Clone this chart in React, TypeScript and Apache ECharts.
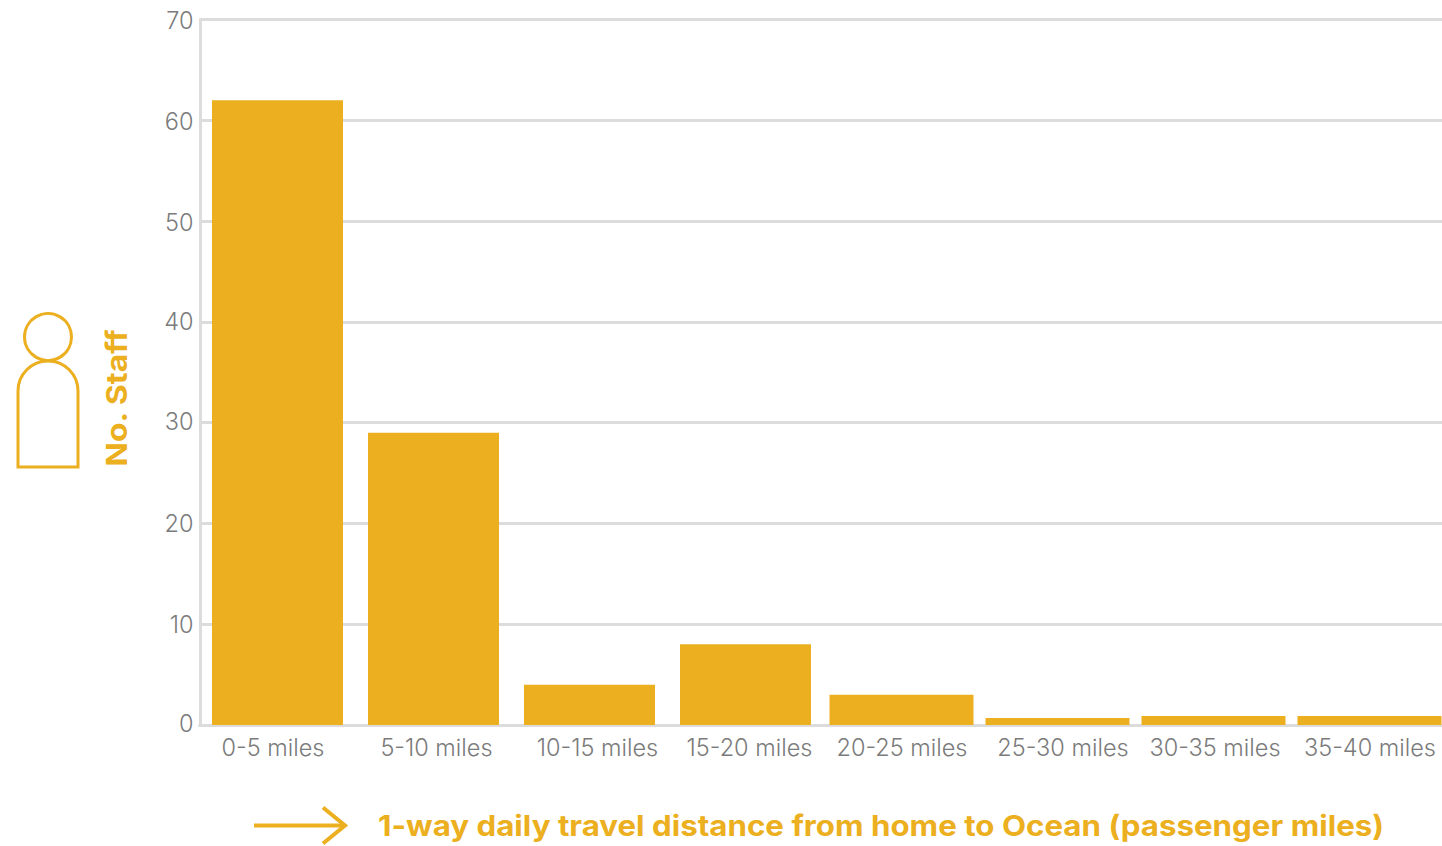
import React, { useEffect, useRef } from "react";
import * as echarts from "echarts";

const categories = ["0-5 miles", "5-10 miles", "10-15 miles", "15-20 miles", "20-25 miles", "25-30 miles", "30-35 miles", "35-40 miles"];
const staffCounts = [62, 29, 4, 8, 3, 0.7, 0.9, 0.9];
const yTicks = [0, 10, 20, 30, 40, 50, 60, 70];
const yTitle = "No. Staff";
const xTitle = "1-way daily travel distance from home to Ocean (passenger miles)";

const AMBER = "#ebaf20";
const GREY_TEXT = "#7b7b7b";
const RULE = "#dcdcdc";
const LABEL_FONT = "Inter";
const TITLE_FONT = "Inter";
const LABEL_SIZE = 23.5;

// The narrower bars cover the first four bands, the wider ones the rest.
const NARROW_COUNT = 4;
// Horizontal nudge of each category label relative to its band centre.
const labelShift = [-4.5, 3, 8, 4, 0.5, 5.5, 1.5, 0.5];
// Vertical nudge of the value labels, keyed by tick value; positive lifts the label.
const tickLift: Record<number, number> = { 0: 2, 10: 0, 20: 0, 30: 1, 40: 0, 50: -1, 60: -1, 70: -1 };

const bodyShape = echarts.graphic.extendPath(
  "M18 467 L18 391 A30 30 0 0 1 78 391 L78 467 Z",
  {}
);
echarts.graphic.registerShape("personBody", bodyShape);

export default function App() {
  const ref = useRef<HTMLDivElement>(null);

  useEffect(() => {
    document.body.style.margin = "0";
    document.body.style.overflow = "hidden";
    const chart = echarts.init(ref.current!, null, { renderer: "svg" });

    const baseText = {
      fontFamily: LABEL_FONT,
      fontWeight: 300,
      fontSize: LABEL_SIZE,
      color: GREY_TEXT,
    };

    const rich: Record<string, object> = {};
    labelShift.forEach((s, i) => {
      rich["c" + i] = {
        ...baseText,
        padding: s >= 0 ? [0, 0, 0, 2 * s] : [0, -2 * s, 0, 0],
      };
    });

    const yRich: Record<string, object> = {};
    yTicks.forEach((t) => {
      const lift = tickLift[t] ?? 0;
      yRich["t" + t] = {
        ...baseText,
        padding: lift >= 0 ? [0, 0, 2 * lift, 0] : [-2 * lift, 0, 0, 0],
      };
    });

    chart.setOption({
      animation: false,
      backgroundColor: "#ffffff",
      grid: { left: 199.5, top: 19.5, width: 1248, height: 705.5 },
      xAxis: [
        {
          type: "category",
          data: categories,
          axisLine: { lineStyle: { color: RULE, width: 3 } },
          axisTick: { show: false },
          axisLabel: {
            interval: 0,
            margin: 10.5,
            formatter: (v: string) => `{c${categories.indexOf(v)}|${v}}`,
            rich,
          },
        },
        { type: "category", data: categories, show: false },
      ],
      yAxis: {
        type: "value",
        min: yTicks[0],
        max: yTicks[yTicks.length - 1],
        interval: 10,
        offset: -1,
        axisLine: { show: true, lineStyle: { color: RULE, width: 3 } },
        axisTick: { show: false },
        splitLine: { lineStyle: { color: RULE, width: 3 } },
        axisLabel: {
          margin: 7,
          formatter: (v: number) => `{t${v}|${v}}`,
          rich: yRich,
        },
      },
      series: [
        {
          type: "bar",
          xAxisIndex: 0,
          barWidth: 131,
          itemStyle: { color: AMBER },
          data: staffCounts.map((v, i) => (i < NARROW_COUNT ? v : null)),
        },
        {
          type: "bar",
          xAxisIndex: 1,
          barWidth: 144,
          itemStyle: { color: AMBER },
          data: staffCounts.map((v, i) => (i >= NARROW_COUNT ? v : null)),
        },
      ],
      graphic: [
        {
          type: "circle",
          shape: { cx: 48, cy: 337, r: 23.5 },
          style: { fill: "none", stroke: AMBER, lineWidth: 3 },
        },
        {
          type: "personBody",
          style: { fill: "none", stroke: AMBER, lineWidth: 3 },
        },
        {
          type: "text",
          x: 116,
          y: 398,
          rotation: Math.PI / 2,
          scaleX: 1.104,
          style: {
            text: yTitle,
            fontFamily: TITLE_FONT,
            fontWeight: 700,
            fontSize: 29,
            fill: AMBER,
            textAlign: "center",
            textVerticalAlign: "middle",
          },
        },
        {
          type: "line",
          shape: { x1: 254, y1: 825.5, x2: 344, y2: 825.5 },
          style: { stroke: AMBER, lineWidth: 4 },
        },
        {
          type: "polyline",
          shape: { points: [[323, 807.5], [345, 825.5], [323, 843.5]] },
          style: { fill: "none", stroke: AMBER, lineWidth: 4 },
        },
        {
          type: "text",
          x: 378,
          y: 825,
          scaleX: 1.0785,
          style: {
            text: xTitle,
            fontFamily: TITLE_FONT,
            fontWeight: 700,
            fontSize: 29,
            fill: AMBER,
            textAlign: "left",
            textVerticalAlign: "middle",
          },
        },
      ],
    });

    return () => chart.dispose();
  }, []);

  return (
    <div style={{ width: 1442, height: 846, overflow: "hidden" }}>
      <div ref={ref} style={{ width: 1450, height: 846 }} />
    </div>
  );
}
